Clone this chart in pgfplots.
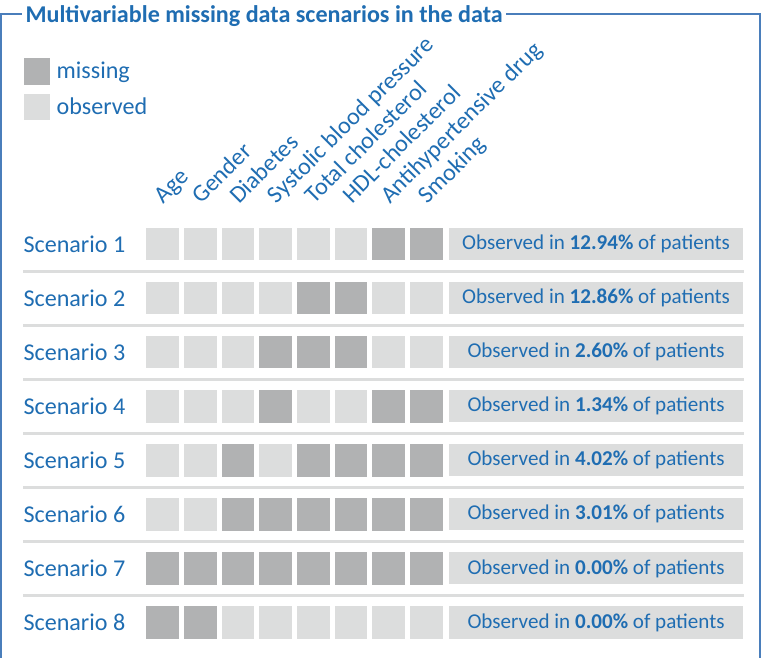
\documentclass[border=0pt]{standalone}
\usepackage{pgfplots}
\pgfplotsset{compat=1.18}
\usepackage{fontspec}
\setmainfont{Carlito}
\definecolor{miss}{HTML}{B1B2B3}
\definecolor{obs}{HTML}{DCDDDD}
\definecolor{txtblue}{HTML}{1F6DB2}
\definecolor{frameblue}{HTML}{4A7EBB}
\begin{document}
\begin{tikzpicture}
\begin{axis}[
  x=18.785pt, y=26.925pt, y dir=reverse,
  xmin=-3.360, xmax=16.896, ymin=-3.5125, ymax=8.651,
  axis lines=none,
  legend style={at={(axis cs:-2.694,-2.454)}, anchor=north west, draw=none, fill=none,
    font=\fontsize{12}{14}\selectfont, text=txtblue, row sep=4pt, inner sep=0pt},
  legend cell align=left,
  legend image code/.code={\fill[#1, draw=none] (0pt,-6.5pt) rectangle (13pt,6.5pt);
    \path[draw=none, fill=none] (14.5pt,0pt) circle (0pt);},
]
% separators between scenarios
\pgfplotsinvokeforeach{1.5,2.5,3.5,4.5,5.5,6.5,7.5}{
  \addplot[obs, line width=1.5pt, forget plot] coordinates {(-2.694,#1) (16.417,#1)};
}
% missing cells (column = variable, row = scenario)
\addplot[only marks, mark=square*, mark size=7.9pt, forget plot,
  mark options={fill=miss, draw=miss, line width=0pt}] coordinates {
  (7,1)(8,1)
  (5,2)(6,2)
  (4,3)(5,3)(6,3)
  (4,4)(7,4)(8,4)
  (3,5)(5,5)(6,5)(7,5)(8,5)
  (3,6)(4,6)(5,6)(6,6)(7,6)(8,6)
  (1,7)(2,7)(3,7)(4,7)(5,7)(6,7)(7,7)(8,7)
  (1,8)(2,8)
};
% observed cells
\addplot[only marks, mark=square*, mark size=7.9pt, forget plot,
  mark options={fill=obs, draw=obs, line width=0pt}] coordinates {
  (1,1)(2,1)(3,1)(4,1)(5,1)(6,1)
  (1,2)(2,2)(3,2)(4,2)(7,2)(8,2)
  (1,3)(2,3)(3,3)(7,3)(8,3)
  (1,4)(2,4)(3,4)(5,4)(6,4)
  (1,5)(2,5)(4,5)
  (1,6)(2,6)
  (3,8)(4,8)(5,8)(6,8)(7,8)(8,8)
};
% share of patients per scenario
\addplot[only marks, mark=none, forget plot, point meta=explicit symbolic,
  nodes near coords={Observed in \textbf{\pgfplotspointmeta\%} of patients},
  every node near coord/.append style={anchor=center, fill=obs, minimum width=146.8pt,
    minimum height=16pt, inner sep=0pt, text=txtblue, font=\fontsize{10.5}{12}\selectfont}]
  coordinates {
  (12.496,1) [12.94]
  (12.496,2) [12.86]
  (12.496,3) [2.60]
  (12.496,4) [1.34]
  (12.496,5) [4.02]
  (12.496,6) [3.01]
  (12.496,7) [0.00]
  (12.496,8) [0.00]
};
% scenario names
\addplot[only marks, mark=none, forget plot, point meta=explicit symbolic,
  nodes near coords,
  every node near coord/.append style={anchor=west, inner sep=0pt, text=txtblue,
    font=\fontsize{12}{14}\selectfont}]
  coordinates {
  (-2.694,1) [Scenario 1]
  (-2.694,2) [Scenario 2]
  (-2.694,3) [Scenario 3]
  (-2.694,4) [Scenario 4]
  (-2.694,5) [Scenario 5]
  (-2.694,6) [Scenario 6]
  (-2.694,7) [Scenario 7]
  (-2.694,8) [Scenario 8]
};
% variable names
\addplot[only marks, mark=none, forget plot, point meta=explicit symbolic,
  nodes near coords,
  every node near coord/.append style={rotate=45, anchor=base west, inner sep=0pt,
    text=txtblue, font=\fontsize{12}{14}\selectfont}]
  coordinates {
  (1.027,0.276) [Age]
  (2.027,0.276) [Gender]
  (3.027,0.276) [Diabetes]
  (4.027,0.276) [Systolic blood pressure]
  (5.027,0.276) [Total cholesterol]
  (6.027,0.276) [HDL-cholesterol]
  (7.027,0.276) [Antihypertensive drug]
  (8.027,0.276) [Smoking]
};
\addlegendimage{fill=miss}
\addlegendentry{missing}
\addlegendimage{fill=obs}
\addlegendentry{observed}
% frame and title
\draw[frameblue, line width=1pt] (axis cs:-3.280,9) -- (axis cs:-3.280,-3.2526)
  -- (axis cs:16.842,-3.2526) -- (axis cs:16.842,9);
\node[anchor=base west, fill=white, inner xsep=1.75pt, text=txtblue,
  font=\bfseries\fontsize{12}{14}\selectfont] at (axis cs:-2.734,-3.104)
  {Multivariable missing data scenarios in the data};
\end{axis}
\end{tikzpicture}
\end{document}
